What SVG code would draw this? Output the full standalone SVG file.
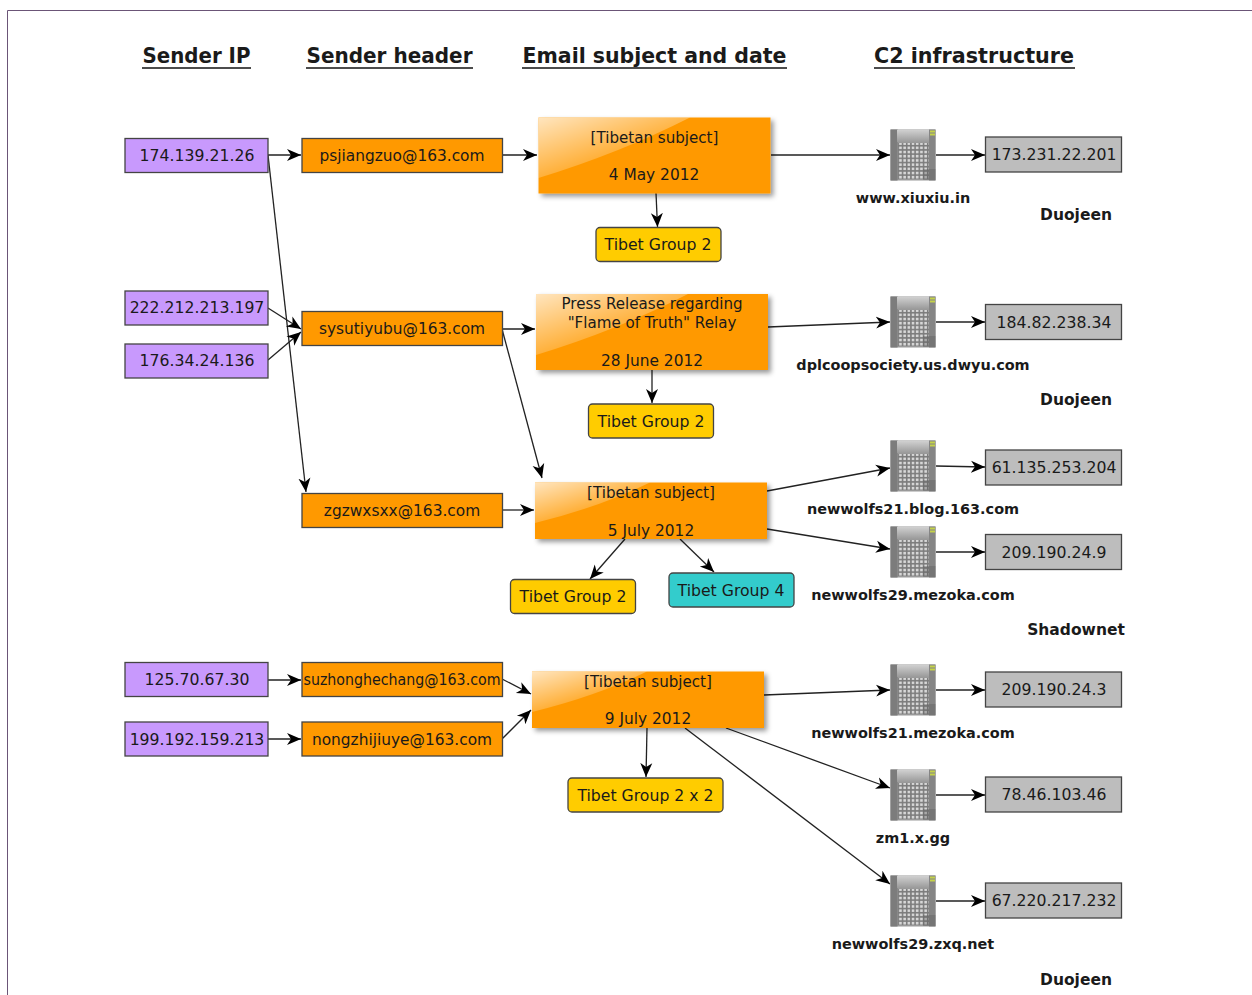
<svg xmlns="http://www.w3.org/2000/svg" xmlns:xlink="http://www.w3.org/1999/xlink" width="1252" height="995" viewBox="0 0 1252 995">
<style>
text{font-family:"DejaVu Sans","Liberation Sans",sans-serif;fill:#1a1a1a;text-anchor:middle}
.t{font-size:15.7px}
.e{font-size:15.4px}
.s{font-size:15.1px}
.h{font-size:20.500px;font-weight:bold}
.l{font-size:14.45px;font-weight:bold}
.n{font-size:15.5px;font-weight:bold}
.box{stroke:#444;stroke-width:1.3}
.ip{fill:#c899fd}.hd{fill:#ff9900}.gy{fill:#bdbdbd}
.yl{fill:#ffcc00}.cy{fill:#33cccc}
.c{stroke:#222;stroke-width:1.3;fill:none;marker-end:url(#a)}
.ul{stroke:#111;stroke-width:1.3}
</style>
<defs>
<marker id="a" markerUnits="userSpaceOnUse" markerWidth="15" markerHeight="15" refX="14" refY="7.500" orient="auto"><path d="M0 1.500L14 7.500L0 13.500L4 7.500Z" fill="#000"/></marker>
<linearGradient id="g" x1="0" y1="0" x2=".6" y2=".7"><stop offset="0" stop-color="#fff" stop-opacity=".75"/><stop offset="1" stop-color="#fff" stop-opacity=".12"/></linearGradient>
<linearGradient id="st" x1="0" y1="0" x2="0" y2="1"><stop offset="0" stop-color="#d0d0d0"/><stop offset="1" stop-color="#9a9a9a"/></linearGradient>
<pattern id="w" width="4.2" height="4.2" patternUnits="userSpaceOnUse"><rect width="4.2" height="4.2" fill="#7c7c7c"/><rect x=".7" y=".7" width="2.6" height="2.6" fill="#d8d8d8"/></pattern>
<filter id="sh" x="-5%" y="-10%" width="112%" height="125%"><feDropShadow dx="3" dy="3" stdDeviation="2.5" flood-color="#000" flood-opacity=".4"/></filter>
<filter id="bl" x="-5%" y="-5%" width="110%" height="110%"><feGaussianBlur stdDeviation=".45"/></filter>
<symbol id="srv" width="46" height="52" viewBox="0 0 46 52">
<g filter="url(#bl)">
<rect x="0.500" y="0.500" width="45" height="51" fill="#999"/>
<rect x="0.500" y="0.500" width="7" height="51" fill="#7b7b7b"/>
<rect x="39" y="0.500" width="6.500" height="51" fill="#858585"/>
<rect x="7" y="1" width="32" height="12" fill="url(#st)"/>
<rect x="8" y="14" width="31" height="36" fill="url(#w)"/>
<rect x="33" y="40" width="12.500" height="11" fill="#555" opacity=".35"/>
<rect x="40" y="1.500" width="5" height="2" fill="#c4d24a"/><rect x="40" y="4.500" width="5" height="2" fill="#c4d24a"/>
</g>
</symbol>
</defs>
<rect width="1252" height="995" fill="#fff"/>
<path d="M7.500 995V10.500H1252" fill="none" stroke="#6b5577" stroke-width="1"/>

<g id="headers">
<text class="h" x="196.500" y="63" textLength="108" lengthAdjust="spacingAndGlyphs">Sender IP</text><line class="ul" x1="142" y1="68" x2="251" y2="68"/>
<text class="h" x="389.500" y="63" textLength="166" lengthAdjust="spacingAndGlyphs">Sender header</text><line class="ul" x1="306" y1="68" x2="473" y2="68"/>
<text class="h" x="654.500" y="63" textLength="264" lengthAdjust="spacingAndGlyphs">Email subject and date</text><line class="ul" x1="522" y1="68" x2="787" y2="68"/>
<text class="h" x="974" y="63" textLength="200" lengthAdjust="spacingAndGlyphs">C2 infrastructure</text><line class="ul" x1="874" y1="68" x2="1075" y2="68"/>
</g>

<g id="connectors">
<path class="c" d="M268 155H301"/>
<path class="c" d="M268 155L306 492"/>
<path class="c" d="M268 308L301 329"/>
<path class="c" d="M268 360L301 332"/>
<path class="c" d="M502 155H537"/>
<path class="c" d="M502 329H535"/>
<path class="c" d="M502 329L542 478"/>
<path class="c" d="M502 510H534"/>
<path class="c" d="M771 155H890"/>
<path class="c" d="M656 193L657.500 227"/>
<path class="c" d="M768 327L890 322"/>
<path class="c" d="M652 370V403"/>
<path class="c" d="M767 491L890 468"/>
<path class="c" d="M767 529L890 549"/>
<path class="c" d="M625 539L590 579"/>
<path class="c" d="M680 539L714 572"/>
<path class="c" d="M268 680H301"/>
<path class="c" d="M268 739H301"/>
<path class="c" d="M502 679L531 694"/>
<path class="c" d="M502 739L531 710"/>
<path class="c" d="M764 695L890 690"/>
<path class="c" d="M647 728L646 777"/>
<path class="c" d="M726 728L890 788"/>
<path class="c" d="M685 728L890 884"/>
<path class="c" d="M936 155H985"/>
<path class="c" d="M936 322H985"/>
<path class="c" d="M936 466L985 467"/>
<path class="c" d="M936 552H985"/>
<path class="c" d="M936 690H985"/>
<path class="c" d="M936 795H985"/>
<path class="c" d="M936 901H985"/>
</g>

<g id="ip1"><rect class="box ip" x="125" y="138.500" width="143" height="34"/><text class="t" x="197" y="161">174.139.21.26</text></g>
<g id="ip2"><rect class="box ip" x="125" y="291" width="143" height="34"/><text class="t" x="197" y="313">222.212.213.197</text></g>
<g id="ip3"><rect class="box ip" x="125" y="344" width="143" height="34"/><text class="t" x="197" y="366">176.34.24.136</text></g>
<g id="ip4"><rect class="box ip" x="125" y="662.500" width="143" height="34"/><text class="t" x="197" y="685">125.70.67.30</text></g>
<g id="ip5"><rect class="box ip" x="125" y="722" width="143" height="34"/><text class="t" x="197" y="745">199.192.159.213</text></g>

<g id="h1"><rect class="box hd" x="302" y="138.500" width="200.500" height="34"/><text class="e" x="402" y="161">psjiangzuo@163.com</text></g>
<g id="h2"><rect class="box hd" x="302" y="311.500" width="200.500" height="34"/><text class="e" x="402" y="334">sysutiyubu@163.com</text></g>
<g id="h3"><rect class="box hd" x="302" y="493.500" width="200.500" height="34"/><text class="e" x="402" y="516">zgzwxsxx@163.com</text></g>
<g id="h4"><rect class="box hd" x="302" y="662.500" width="200.500" height="34"/><text class="e" x="402" y="685" textLength="197" lengthAdjust="spacingAndGlyphs">suzhonghechang@163.com</text></g>
<g id="h5"><rect class="box hd" x="302" y="722" width="200.500" height="34"/><text class="e" x="402" y="745">nongzhijiuye@163.com</text></g>

<g id="m1"><rect x="538.500" y="117.500" width="232" height="76" fill="#ff9900" filter="url(#sh)"/><path d="M538.500 117.500H690Q620 153 538.500 178Z" fill="url(#g)"/><text class="s" x="654.500" y="143">[Tibetan subject]</text><text class="e" x="654" y="180">4 May 2012</text></g>
<g id="m2"><rect x="536" y="294" width="232" height="76" fill="#ff9900" filter="url(#sh)"/><path d="M536 294H688Q618 330 536 355Z" fill="url(#g)"/><text class="s" x="652" y="309">Press Release regarding</text><text class="s" x="652" y="328">"Flame of Truth" Relay</text><text class="e" x="652" y="366">28 June 2012</text></g>
<g id="m3"><rect x="535" y="482.500" width="232" height="56.500" fill="#ff9900" filter="url(#sh)"/><path d="M535 482.500H650Q600 507 535 523Z" fill="url(#g)"/><text class="s" x="651" y="498">[Tibetan subject]</text><text class="e" x="651" y="536">5 July 2012</text></g>
<g id="m4"><rect x="532" y="671.500" width="232" height="56.500" fill="#ff9900" filter="url(#sh)"/><path d="M532 671.500H647Q597 696 532 712Z" fill="url(#g)"/><text class="s" x="648" y="687">[Tibetan subject]</text><text class="e" x="648" y="724">9 July 2012</text></g>

<g id="g1"><rect class="box yl" x="596" y="227.500" width="125" height="34" rx="4"/><text class="t" x="658" y="250">Tibet Group 2</text></g>
<g id="g2"><rect class="box yl" x="588.500" y="404" width="125" height="34" rx="4"/><text class="t" x="651" y="427">Tibet Group 2</text></g>
<g id="g3"><rect class="box yl" x="510.500" y="579.500" width="125" height="34" rx="4"/><text class="t" x="573" y="602">Tibet Group 2</text></g>
<g id="g4"><rect class="box cy" x="669" y="573" width="125" height="34" rx="4"/><text class="t" x="731" y="596">Tibet Group 4</text></g>
<g id="g5"><rect class="box yl" x="568" y="778" width="155" height="34" rx="4"/><text class="t" x="645.500" y="801">Tibet Group 2 x 2</text></g>

<g id="s1"><use xlink:href="#srv" x="890" y="129"/><text class="l" x="913" y="203">www.xiuxiu.in</text></g>
<g id="s2"><use xlink:href="#srv" x="890" y="296"/><text class="l" x="913" y="370">dplcoopsociety.us.dwyu.com</text></g>
<g id="s3"><use xlink:href="#srv" x="890" y="440"/><text class="l" x="913" y="514">newwolfs21.blog.163.com</text></g>
<g id="s4"><use xlink:href="#srv" x="890" y="526"/><text class="l" x="913" y="600">newwolfs29.mezoka.com</text></g>
<g id="s5"><use xlink:href="#srv" x="890" y="664"/><text class="l" x="913" y="738">newwolfs21.mezoka.com</text></g>
<g id="s6"><use xlink:href="#srv" x="890" y="769"/><text class="l" x="913" y="843">zm1.x.gg</text></g>
<g id="s7"><use xlink:href="#srv" x="890" y="875"/><text class="l" x="913" y="949">newwolfs29.zxq.net</text></g>

<g id="c1"><rect class="box gy" x="985.500" y="137" width="136" height="35"/><text class="t" x="1054" y="160">173.231.22.201</text></g>
<g id="c2"><rect class="box gy" x="985.500" y="304.500" width="136" height="35"/><text class="t" x="1054" y="328">184.82.238.34</text></g>
<g id="c3"><rect class="box gy" x="985.500" y="450" width="136" height="35"/><text class="t" x="1054" y="473">61.135.253.204</text></g>
<g id="c4"><rect class="box gy" x="985.500" y="534.500" width="136" height="35"/><text class="t" x="1054" y="558">209.190.24.9</text></g>
<g id="c5"><rect class="box gy" x="985.500" y="672" width="136" height="35"/><text class="t" x="1054" y="695">209.190.24.3</text></g>
<g id="c6"><rect class="box gy" x="985.500" y="777" width="136" height="35"/><text class="t" x="1054" y="800">78.46.103.46</text></g>
<g id="c7"><rect class="box gy" x="985.500" y="883" width="136" height="35"/><text class="t" x="1054" y="906">67.220.217.232</text></g>

<g id="labels">
<text class="n" x="1076" y="220">Duojeen</text>
<text class="n" x="1076" y="405">Duojeen</text>
<text class="n" x="1076" y="635">Shadownet</text>
<text class="n" x="1076" y="985">Duojeen</text>
</g>
</svg>
